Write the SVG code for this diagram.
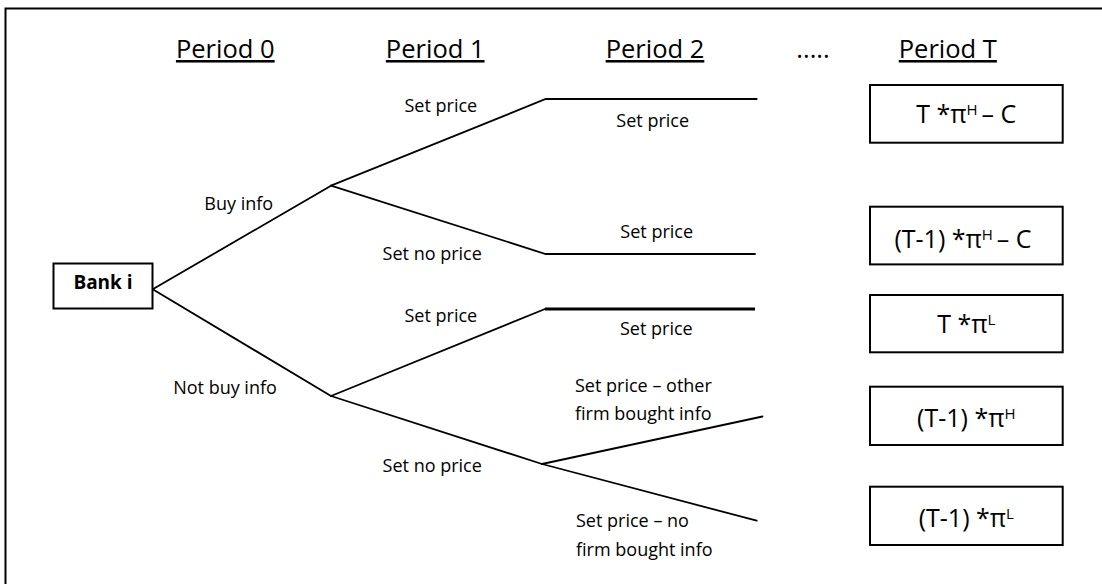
<svg xmlns="http://www.w3.org/2000/svg" width="1102" height="584" viewBox="0 0 1102 584">
<style>
  .frame{fill:none;stroke:#000;stroke-width:2}
  .box{fill:#fff;stroke:#000;stroke-width:2}
  .edge{fill:none;stroke:#000;stroke-width:1.8;stroke-linecap:round}
  .thick{stroke-width:3;stroke-linecap:butt}
  .hdr{font-family:"Open Sans","Liberation Sans",sans-serif;font-size:25.5px;fill:#000;text-anchor:middle;text-decoration:underline}
  .dots{font-family:"Open Sans","Liberation Sans",sans-serif;font-size:25.5px;fill:#000;text-anchor:middle}
  .lbl{font-family:"Open Sans","Liberation Sans",sans-serif;font-size:18px;fill:#000;text-anchor:middle}
  .lbl-l{font-family:"Open Sans","Liberation Sans",sans-serif;font-size:18px;fill:#000}
  .bank{font-family:"Open Sans","Liberation Sans",sans-serif;font-size:19px;font-weight:bold;fill:#000;text-anchor:middle}
  .pay{font-family:"Open Sans","Liberation Sans",sans-serif;font-size:25px;fill:#000;text-anchor:middle}
  .sup{font-size:15px}
</style>
<rect class="frame" x="5.5" y="8.5" width="1110" height="600"/>
<g id="headers">
  <text class="hdr" x="225.3" y="58">Period 0</text>
  <text class="hdr" x="435.2" y="58">Period 1</text>
  <text class="hdr" x="655" y="58">Period 2</text>
  <text class="dots" x="813" y="58">.....</text>
  <text class="hdr" x="947.8" y="58">Period T</text>
</g>
<g id="connectors">
  <line class="edge" x1="152.7" y1="289.3" x2="331" y2="185.7"/>
  <line class="edge" x1="152.7" y1="289.3" x2="331" y2="396"/>
  <polyline class="edge" points="331,185.7 545.7,99 756.7,99"/>
  <polyline class="edge" points="331,185.7 545.7,254 755,254"/>
  <line class="edge" x1="331" y1="396" x2="545" y2="309"/>
  <line class="edge thick" x1="545" y1="309" x2="755" y2="309"/>
  <line class="edge" x1="331" y1="396" x2="542" y2="464"/>
  <line class="edge" x1="542" y1="464" x2="762.5" y2="416.5"/>
  <line class="edge" x1="542" y1="464" x2="756.7" y2="520.7"/>
</g>
<g id="edge-labels">
  <text class="lbl" x="238.7" y="210">Buy info</text>
  <text class="lbl" x="225" y="394">Not buy info</text>
  <text class="lbl" x="440.8" y="111.7">Set price</text>
  <text class="lbl" x="432.2" y="260">Set no price</text>
  <text class="lbl" x="440.8" y="321.7">Set price</text>
  <text class="lbl" x="432.2" y="471.7">Set no price</text>
  <text class="lbl" x="652.7" y="127.3">Set price</text>
  <text class="lbl" x="656.7" y="238.3">Set price</text>
  <text class="lbl" x="656.3" y="335">Set price</text>
  <text class="lbl-l" x="575" y="391.7">Set price – other</text>
  <text class="lbl-l" x="575" y="420">firm bought info</text>
  <text class="lbl-l" x="576" y="526.7">Set price – no</text>
  <text class="lbl-l" x="576" y="556">firm bought info</text>
</g>
<g id="bank-i">
  <rect class="box" x="53.5" y="263.5" width="99" height="45"/>
  <text class="bank" x="103" y="289.3">Bank i</text>
</g>
<g id="payoff-1">
  <rect class="box" x="870" y="85" width="192.7" height="57.7"/>
  <text class="pay" x="966.3" y="123.3">T *π<tspan class="sup" dy="-8">H </tspan><tspan dy="8">– C</tspan></text>
</g>
<g id="payoff-2">
  <rect class="box" x="870" y="206.7" width="192.7" height="57.7"/>
  <text class="pay" x="963" y="248.3">(T-1) *π<tspan class="sup" dy="-8">H </tspan><tspan dy="8">– C</tspan></text>
</g>
<g id="payoff-3">
  <rect class="box" x="870" y="295" width="192.7" height="57.3"/>
  <text class="pay" x="966.3" y="333.3">T *π<tspan class="sup" dy="-8">L</tspan></text>
</g>
<g id="payoff-4">
  <rect class="box" x="870" y="386.7" width="192.7" height="58.3"/>
  <text class="pay" x="966.3" y="426.7">(T-1) *π<tspan class="sup" dy="-8">H</tspan></text>
</g>
<g id="payoff-5">
  <rect class="box" x="870" y="486.7" width="192.7" height="58.3"/>
  <text class="pay" x="966.3" y="526.7">(T-1) *π<tspan class="sup" dy="-8">L</tspan></text>
</g>
</svg>
